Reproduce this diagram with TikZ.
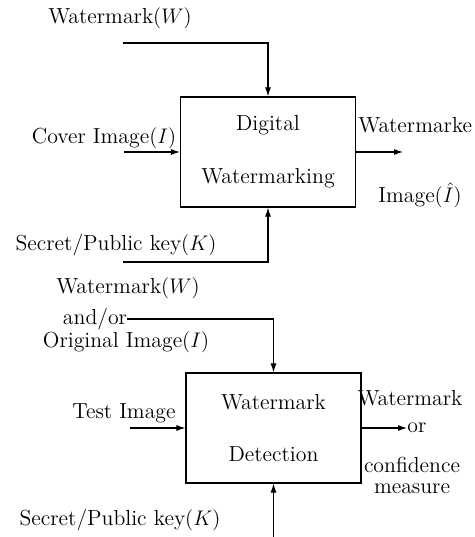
\documentclass[tikz,border=0pt]{standalone}
\usetikzlibrary{arrows.meta}
\tikzset{
  blk/.style={draw, line width=0.7pt, minimum width=3.5cm, minimum height=2.2cm,
    align=center, inner sep=0pt},
  lbl/.style={inner sep=0pt},
  flow/.style={line width=0.6pt, -{Latex[length=1.8mm, width=1.2mm]}},
}

\begin{document}
\begin{tikzpicture}[x=0.02cm, y=0.02cm, font=\fontsize{12.4}{15}\selectfont]
  \useasboundingbox (0,0) rectangle (475,537);

  % ---- top: embedding ----
  \node[blk] (emb) at (268,385) {Digital\\[15pt]Watermarking};
  \node[lbl] (wm1) at (120,519) {Watermark$(W)$};
  \coordinate (wm1s) at (123,494);
  \draw[flow] (wm1s) -| (emb.north);

  \node[lbl] (cov) at (104,399) {Cover Image$(I)$};
  \coordinate (covs) at (124,385);
  \draw[flow] (covs) -- (emb.west);

  \coordinate (outa) at (403,385);
  \draw[flow] (emb.east) -- (outa);
  \node[lbl, anchor=west] (wmkd) at (358,412) {Watermarke};
  \node[lbl] (imgh) at (420,342) {Image$(\hat{I})$};

  \node[lbl] (key1) at (116,292) {Secret/Public key$(K)$};
  \coordinate (key1s) at (123,275);
  \draw[flow] (key1s) -| (emb.south);

  % ---- bottom: detection ----
  \node[blk] (det) at (273.5,109) {Watermark\\[15pt]Detection};
  \node[lbl] (wm2) at (128,249) {Watermark$(W)$};
  \node[lbl] (andor) at (95,218) {and/or};
  \node[lbl] (orig) at (126,195) {Original Image$(I)$};
  \draw[flow] (andor.east) -| (det.north);

  \node[lbl] (test) at (124,124) {Test Image};
  \coordinate (tests) at (130,109);
  \draw[flow] (tests) -- (det.west);

  \node[lbl] (wmo) at (410,139) {Watermark};
  \node[lbl, anchor=west] (oro) at (407,109) {or};
  \draw[flow] (det.east) -- (oro.west);
  \node[lbl, align=center] (conf) at (412,62) {confidence\\[-3pt]measure};

  \node[lbl] (key2) at (120,17) {Secret/Public key$(K)$};
  \coordinate (key2s) at (273.5,0);
  \draw[flow] (key2s) -- (det.south);
\end{tikzpicture}
\end{document}
